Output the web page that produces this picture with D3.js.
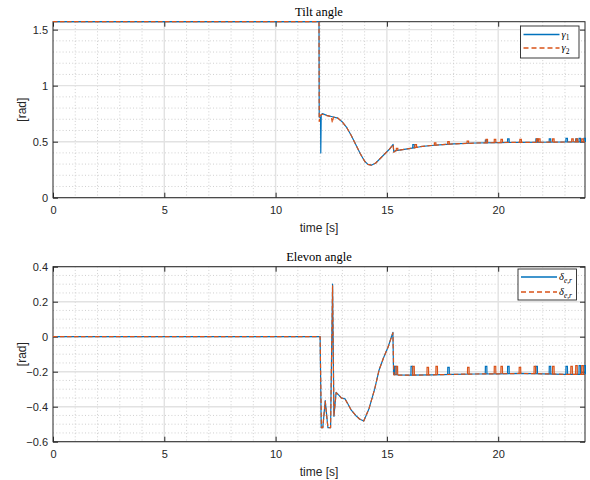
<!DOCTYPE html>
<html>
<head>
<meta charset="utf-8">
<script src="https://cdn.jsdelivr.net/npm/d3@7.9.0/dist/d3.min.js"></script>
<style>
  body { margin: 0; background: #fff; }
  svg { display: block; }
  .tick text { font-family: "Liberation Sans", Arial, sans-serif; font-size: 11px; fill: #262626; }
  .axis path, .axis line { stroke: #262626; }
</style>
</head>
<body>
<svg id="chart" width="590" height="480"></svg>
<script>
// ---- Data ----
const xTicks = [0, 5, 10, 15, 20];
const tiltTicks = [0, 0.5, 1, 1.5];
const elevonTicks = [-0.6, -0.4, -0.2, 0, 0.2, 0.4];

// tilt angle, gamma_1 (blue) baseline [t, rad]
const tilt1 = [
  [0, 1.5708], [11.95, 1.5708], [11.96, 0.72], [12.02, 0.72], [12.03, 0.40],
  [12.05, 0.74], [12.1, 0.75], [12.3, 0.735], [12.5, 0.725], [12.8, 0.71],
  [13.0, 0.675], [13.2, 0.625], [13.4, 0.555], [13.6, 0.475], [13.8, 0.395],
  [14.0, 0.325], [14.15, 0.297], [14.3, 0.29], [14.5, 0.31], [14.7, 0.35],
  [14.9, 0.39], [15.1, 0.43], [15.28, 0.475], [15.31, 0.41], [15.4, 0.42],
  [16.0, 0.438], [16.5, 0.455], [17.0, 0.466], [17.5, 0.474], [18.0, 0.48],
  [19.0, 0.488], [20.0, 0.492], [21.0, 0.494], [22.0, 0.495], [23.0, 0.497], [23.9, 0.498]
];
// tilt angle, gamma_2 (orange) baseline
const tilt2 = [
  [0, 1.5708], [11.95, 1.5708], [11.96, 0.68], [12.0, 0.73], [12.05, 0.74],
  [12.1, 0.745], [12.3, 0.733], [12.5, 0.724], [12.55, 0.67], [12.6, 0.72],
  [12.8, 0.71], [13.0, 0.675], [13.2, 0.625], [13.4, 0.555], [13.6, 0.475],
  [13.8, 0.395], [14.0, 0.325], [14.15, 0.297], [14.3, 0.29], [14.5, 0.31],
  [14.7, 0.35], [14.9, 0.39], [15.1, 0.43], [15.28, 0.475], [15.31, 0.405],
  [15.4, 0.42], [16.0, 0.438], [16.5, 0.455], [17.0, 0.466], [17.5, 0.474],
  [18.0, 0.48], [19.0, 0.488], [20.0, 0.492], [21.0, 0.494], [22.0, 0.495],
  [23.0, 0.497], [23.9, 0.498]
];
// spikes [t, base, peak]
const tiltSpikes1 = [
  [16.16, 0.441, 0.475], [19.42, 0.49, 0.515], [20.42, 0.493, 0.525],
  [21.69, 0.495, 0.525], [22.29, 0.495, 0.525], [23.04, 0.497, 0.53],
  [23.48, 0.497, 0.525], [23.63, 0.498, 0.53], [23.85, 0.498, 0.53]
];
const tiltSpikes2 = [
  [15.42, 0.421, 0.44], [16.26, 0.446, 0.475], [17.13, 0.465, 0.49],
  [17.73, 0.474, 0.5], [18.6, 0.485, 0.505], [19.45, 0.49, 0.52],
  [19.82, 0.491, 0.52], [20.12, 0.492, 0.52], [20.97, 0.494, 0.52],
  [21.72, 0.495, 0.525], [21.81, 0.495, 0.525], [22.44, 0.496, 0.525],
  [23.3, 0.497, 0.525], [23.5, 0.497, 0.525], [23.75, 0.498, 0.525]
];

// elevon angle, delta_e,r (blue) baseline [t, rad]
const elevon1 = [
  [0, 0], [12.0, 0], [12.05, -0.52], [12.12, -0.52], [12.23, -0.365],
  [12.35, -0.52], [12.47, -0.52], [12.56, 0.30], [12.62, -0.455], [12.72, -0.318],
  [12.85, -0.335], [12.95, -0.35], [13.12, -0.355], [13.25, -0.385], [13.4, -0.42],
  [13.6, -0.45], [13.77, -0.47], [13.96, -0.482], [14.2, -0.41], [14.45, -0.3],
  [14.65, -0.19], [14.85, -0.12], [15.05, -0.06], [15.27, 0.025], [15.3, -0.215],
  [15.5, -0.218], [16.0, -0.22], [17.0, -0.218], [18.0, -0.215], [19.0, -0.213],
  [20.0, -0.212], [21.0, -0.21], [22.0, -0.212], [23.0, -0.215], [23.9, -0.215]
];
// elevon angle, second series (orange) baseline
const elevon2 = [
  [0, 0], [12.0, 0], [12.06, -0.52], [12.12, -0.52], [12.23, -0.37],
  [12.35, -0.52], [12.47, -0.52], [12.56, 0.29], [12.62, -0.45], [12.72, -0.32],
  [12.85, -0.335], [12.95, -0.35], [13.12, -0.357], [13.25, -0.385], [13.4, -0.42],
  [13.6, -0.45], [13.77, -0.47], [13.96, -0.482], [14.2, -0.41], [14.45, -0.3],
  [14.65, -0.19], [14.85, -0.12], [15.05, -0.06], [15.27, 0.022], [15.31, -0.218],
  [15.5, -0.22], [16.0, -0.22], [17.0, -0.218], [18.0, -0.215], [19.0, -0.213],
  [20.0, -0.212], [21.0, -0.21], [22.0, -0.212], [23.0, -0.215], [23.9, -0.215]
];
const elevonSpikes1 = [
  [15.34, -0.218, -0.17], [16.08, -0.22, -0.17], [17.73, -0.216, -0.175],
  [19.42, -0.213, -0.17], [20.42, -0.212, -0.17], [21.69, -0.211, -0.17],
  [22.29, -0.213, -0.17], [23.04, -0.215, -0.17], [23.63, -0.215, -0.165], [23.85, -0.215, -0.165]
];
const elevonSpikes2 = [
  [15.41, -0.219, -0.17], [16.16, -0.22, -0.17], [16.8, -0.219, -0.175],
  [17.2, -0.218, -0.17], [18.62, -0.214, -0.175], [19.82, -0.212, -0.17],
  [20.12, -0.212, -0.17], [20.94, -0.21, -0.175], [21.61, -0.211, -0.17],
  [22.44, -0.214, -0.17], [23.26, -0.215, -0.17], [23.48, -0.215, -0.165], [23.75, -0.215, -0.165]
];

// ---- Visual constants ----
const blue = '#0072BD';
const orange = '#D95319';
const axisColor = '#262626';
const svg = d3.select('#chart');
const x = d3.scaleLinear().domain([0, 23.9]).range([53, 585]);
const line = d3.line().x((d) => x(d[0])).y((d) => y0(d[1]));
let y0 = null;

// one narrow pulse per spike
const pulse = ([t, b, p]) => [[t, b], [t + 0.005, p], [t + 0.07, p], [t + 0.075, b]];

function drawPanel(o) {
  const y = d3.scaleLinear().domain(o.yDomain).range([o.bottom, o.top]);
  y0 = y;
  const g = svg.append('g');
  const [x0, x1] = x.range();

  // minor grid (dotted)
  g.selectAll('.vminor').data(d3.range(1, 24).filter((d) => d % 5 !== 0))
    .join('line')
    .attr('x1', (d) => x(d)).attr('x2', (d) => x(d))
    .attr('y1', o.top).attr('y2', o.bottom)
    .attr('stroke', '#c4c4c4').attr('stroke-width', 0.8).attr('stroke-dasharray', '1,2.2');
  g.selectAll('.hminor').data(o.yMinor.filter((d) => !o.yTicks.some((t) => Math.abs(t - d) < 1e-6)))
    .join('line')
    .attr('x1', x0).attr('x2', x1)
    .attr('y1', (d) => y(d)).attr('y2', (d) => y(d))
    .attr('stroke', '#c4c4c4').attr('stroke-width', 0.8).attr('stroke-dasharray', '1,2.2');

  // major grid
  g.selectAll('.vmajor').data(xTicks.slice(1)).join('line')
    .attr('x1', (d) => x(d)).attr('x2', (d) => x(d))
    .attr('y1', o.top).attr('y2', o.bottom)
    .attr('stroke', '#e2e2e2').attr('stroke-width', 1.4);
  g.selectAll('.hmajor').data(o.yTicks).join('line')
    .attr('x1', x0).attr('x2', x1)
    .attr('y1', (d) => y(d)).attr('y2', (d) => y(d))
    .attr('stroke', '#e2e2e2').attr('stroke-width', 1.4);

  // axes (ticks inward, box on)
  const fmt = (d) => (d === 0 ? '0' : d3.format('')(+d.toFixed(2)));
  g.append('g').attr('class', 'axis').attr('transform', `translate(0,${o.bottom})`)
    .call(d3.axisBottom(x).tickValues(xTicks).tickSizeInner(-5).tickSizeOuter(0).tickPadding(9));
  g.append('g').attr('class', 'axis').attr('transform', `translate(0,${o.top})`)
    .call(d3.axisTop(x).tickValues(xTicks).tickSizeInner(-5).tickSizeOuter(0).tickFormat(''));
  g.append('g').attr('class', 'axis').attr('transform', `translate(${x0},0)`)
    .call(d3.axisLeft(y).tickValues(o.yTicks).tickSizeInner(-5).tickSizeOuter(0).tickPadding(5).tickFormat(fmt));
  g.append('g').attr('class', 'axis').attr('transform', `translate(${x1},0)`)
    .call(d3.axisRight(y).tickValues(o.yTicks).tickSizeInner(-5).tickSizeOuter(0).tickFormat(''));
  g.append('rect').attr('x', x0).attr('y', o.top).attr('width', x1 - x0).attr('height', o.bottom - o.top)
    .attr('fill', 'none').attr('stroke', axisColor).attr('stroke-width', 1);
  g.selectAll('.axis path').remove();

  // data lines, drawn over the box like Matlab does
  const clipId = 'clip' + Math.round(o.top);
  svg.append('clipPath').attr('id', clipId).append('rect')
    .attr('x', x0).attr('y', o.top - 1.5).attr('width', x1 - x0 + 1).attr('height', o.bottom - o.top + 3);
  const lines = g.append('g').attr('clip-path', `url(#${clipId})`);
  lines.append('path').attr('d', line(o.s1))
    .attr('fill', 'none').attr('stroke', blue).attr('stroke-width', 1.2).attr('stroke-linejoin', 'round');
  lines.selectAll('.sp1').data(o.sp1).join('path').attr('d', (d) => line(pulse(d)))
    .attr('fill', 'none').attr('stroke', blue).attr('stroke-width', 1.2);
  lines.append('path').attr('d', line(o.s2))
    .attr('fill', 'none').attr('stroke', orange).attr('stroke-width', 1.2)
    .attr('stroke-dasharray', '4.5,2.5').attr('stroke-linejoin', 'round');
  lines.selectAll('.sp2').data(o.sp2).join('path').attr('d', (d) => line(pulse(d)))
    .attr('fill', 'none').attr('stroke', orange).attr('stroke-width', 1.2);

  // texts
  g.append('text').attr('x', (x0 + x1) / 2).attr('y', o.top - 5.5)
    .attr('text-anchor', 'middle').attr('font-family', '"Liberation Serif", serif')
    .attr('font-size', 12.5).attr('fill', '#000').text(o.title);
  g.append('text').attr('x', (x0 + x1) / 2).attr('y', o.bottom + 34)
    .attr('text-anchor', 'middle').attr('font-family', '"Liberation Sans", Arial, sans-serif')
    .attr('font-size', 12).attr('fill', axisColor).text('time [s]');
  g.append('text').attr('transform', `translate(25.5,${(o.top + o.bottom) / 2}) rotate(-90)`)
    .attr('text-anchor', 'middle').attr('font-family', '"Liberation Sans", Arial, sans-serif')
    .attr('font-size', 12).attr('fill', axisColor).text('[rad]');

  // legend
  const lg = g.append('g').attr('transform', `translate(${o.legend.x},${o.legend.y})`);
  lg.append('rect').attr('width', o.legend.w).attr('height', o.legend.h)
    .attr('fill', '#fff').attr('stroke', axisColor).attr('stroke-width', 0.9);
  [[blue, null], [orange, '5,3']].forEach(([c, dash], i) => {
    const ly = o.legend.row0 + i * o.legend.dy;
    lg.append('line').attr('x1', 3).attr('x2', 39).attr('y1', ly).attr('y2', ly)
      .attr('stroke', c).attr('stroke-width', 1.3).attr('stroke-dasharray', dash);
    const t = lg.append('text').attr('x', 41).attr('y', ly + 3)
      .attr('font-family', '"Liberation Serif", serif').attr('font-size', 10.5).attr('fill', '#000');
    t.append('tspan').attr('font-style', 'italic').text(o.legendLabels[i][0]);
    t.append('tspan').attr('font-size', 7.5).attr('dy', 2.5)
      .attr('font-style', o.legendLabels[i][2]).text(o.legendLabels[i][1]);
  });
}

drawPanel({
  top: 21.7, bottom: 197.7, yDomain: [0, Math.PI / 2],
  yTicks: tiltTicks, yMinor: d3.range(1, 16).map((d) => d / 10),
  title: 'Tilt angle', s1: tilt1, s2: tilt2, sp1: tiltSpikes1, sp2: tiltSpikes2,
  legend: { x: 520.5, y: 26, w: 58.5, h: 32, row0: 8.5, dy: 13.5 },
  legendLabels: [['γ', '1', 'normal'], ['γ', '2', 'normal']]
});
drawPanel({
  top: 266.7, bottom: 441.7, yDomain: [-0.6, 0.4],
  yTicks: elevonTicks, yMinor: d3.range(-11, 8).map((d) => d / 20),
  title: 'Elevon angle', s1: elevon1, s2: elevon2, sp1: elevonSpikes1, sp2: elevonSpikes2,
  legend: { x: 518, y: 269, w: 58.5, h: 31, row0: 8, dy: 15 },
  legendLabels: [['δ', 'e,r', 'italic'], ['δ', 'e,r', 'italic']]
});
</script>
</body>
</html>
